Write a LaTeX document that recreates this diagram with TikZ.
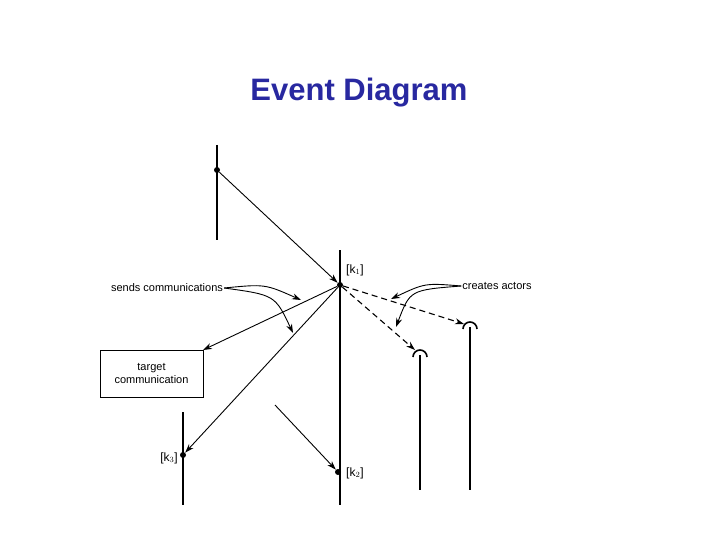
\documentclass[tikz,border=0pt]{standalone}
\usepackage{fontspec}
\setmainfont{Liberation Sans}
\usetikzlibrary{arrows.meta}
\definecolor{ttl}{RGB}{40,40,160}
\begin{document}
\begin{tikzpicture}[x=1pt,y=-1pt,
  life/.style={line width=2.2pt},
  arr/.style={-{Stealth[length=9pt,width=6pt]},line width=0.9pt},
  darr/.style={arr,dashed,dash pattern=on 6pt off 4pt,line width=1.1pt},
  dot/.style={circle,fill,inner sep=0pt,minimum size=6pt},
  lbl/.style={font=\fontsize{11}{12}\selectfont,inner sep=1pt}]
\useasboundingbox (0,0) rectangle (720,540);
\node[font=\bfseries\fontsize{31}{33}\selectfont,text=ttl] (title) at (359,93) {Event Diagram};
% lifelines
\draw[life] (217,145) -- (217,240);
\draw[life] (340,250) -- (340,505);
\draw[life] (183,412) -- (183,505);
\draw[life] (420,355) -- (420,490);
\draw[life] (470,327) -- (470,490);
\draw[line width=1.6pt] (413,357) arc[start angle=180,end angle=360,radius=7];
\draw[line width=1.6pt] (463,329) arc[start angle=180,end angle=360,radius=7];
\node[dot] (a) at (217,170) {};
\node[dot] (k1) at (340,285) {};
\node[dot] (k2) at (338,472) {};
\node[dot] (k3) at (183,455) {};
\node[lbl,anchor=west,font=\fontsize{12}{13}\selectfont] (l1) at (345,270) {[k$_1$]};
\node[lbl,anchor=west,font=\fontsize{12}{13}\selectfont] (l2) at (345,473) {[k$_2$]};
\node[lbl,anchor=east,font=\fontsize{12}{13}\selectfont] (l3) at (179,458) {[k$_3$]};
\node[draw,line width=0.9pt,minimum width=103pt,minimum height=47pt,align=center,
  font=\fontsize{11}{13}\selectfont] (box) at (151.5,373.5) {target\\communication};
\coordinate (bt) at (203,350);
\coordinate (k2s) at (275,405);
\coordinate (act1) at (415,350);
\coordinate (act2) at (464,324);
\draw[arr] (a) -- (k1);
\draw[arr] (k1) -- (bt);
\draw[arr] (k1) -- (k3);
\draw[arr] (k2s) -- (k2);
\draw[darr] (k1) -- (act1);
\draw[darr] (k1) -- (act2);
\node[lbl] (sc) at (167,288) {sends communications};
\node[lbl] (ca) at (497,286) {creates actors};
\coordinate (s1) at (301,300);
\coordinate (s2) at (293,333);
\coordinate (c1) at (391,299);
\coordinate (c2) at (396,327);
\draw[arr] (sc.east) .. controls (265,284) .. (s1);
\draw[arr] (sc.east) .. controls (275,295) .. (s2);
\draw[arr] (ca.west) .. controls (425,283) .. (c1);
\draw[arr] (ca.west) .. controls (410,290) .. (c2);
\end{tikzpicture}
\end{document}
